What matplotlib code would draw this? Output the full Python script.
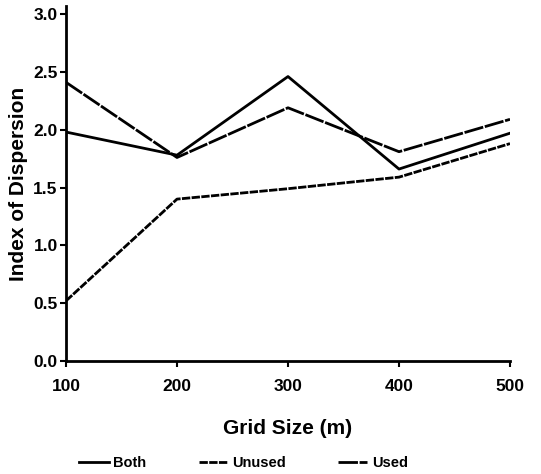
import matplotlib
matplotlib.use("Agg")
from matplotlib import pyplot as plt

# values
grid_size = [100, 200, 300, 400, 500]
both = [1.98, 1.78, 2.46, 1.66, 1.97]
unused = [0.52, 1.40, 1.49, 1.59, 1.88]
used = [2.41, 1.76, 2.19, 1.81, 2.09]
y_ticks = [0.0, 0.5, 1.0, 1.5, 2.0, 2.5, 3.0]

plt.rcParams["font.family"] = ["Liberation Sans", "DejaVu Sans"]
plt.rcParams["font.weight"] = "bold"

fig = plt.figure(figsize=(5.41, 4.74), dpi=100)
ax = fig.add_axes([66 / 541, 1 - 361 / 474, 444 / 541, 355 / 474])

ax.plot(grid_size, both, color="black", lw=2, ls="-", label="Both")
ax.plot(grid_size, unused, color="black", lw=2, ls=(0, (3, 0.5)), label="Unused")
ax.plot(grid_size, used, color="black", lw=2, ls=(0, (7, 0.6)), label="Used")

ax.set_xlim(100, 500)
ax.set_ylim(0, 3.07)
ax.set_xticks(grid_size)
ax.set_yticks(y_ticks)
ax.set_yticklabels(["%.1f" % v for v in y_ticks])
ax.tick_params(direction="out", length=4, width=1.5, labelsize=12.5)
ax.tick_params(axis="x", pad=9)
ax.tick_params(axis="y", pad=2)
for lab in ax.get_xticklabels() + ax.get_yticklabels():
    lab.set_fontweight("bold")

for side in ["top", "right"]:
    ax.spines[side].set_visible(False)
for side in ["left", "bottom"]:
    ax.spines[side].set_linewidth(2)

ax.set_xlabel("Grid Size (m)", fontsize=15, fontweight="bold", labelpad=18)
ax.set_ylabel("Index of Dispersion", fontsize=15, fontweight="bold", labelpad=4)

ax.legend(loc="upper center", bbox_to_anchor=(0.40, -0.26), ncol=3, frameon=False,
          handlelength=2.0, handletextpad=0.3, columnspacing=3.6,
          borderaxespad=0, borderpad=0.2, prop={"weight": "bold", "size": 10.5})

fig.savefig("out.png", dpi=100)
